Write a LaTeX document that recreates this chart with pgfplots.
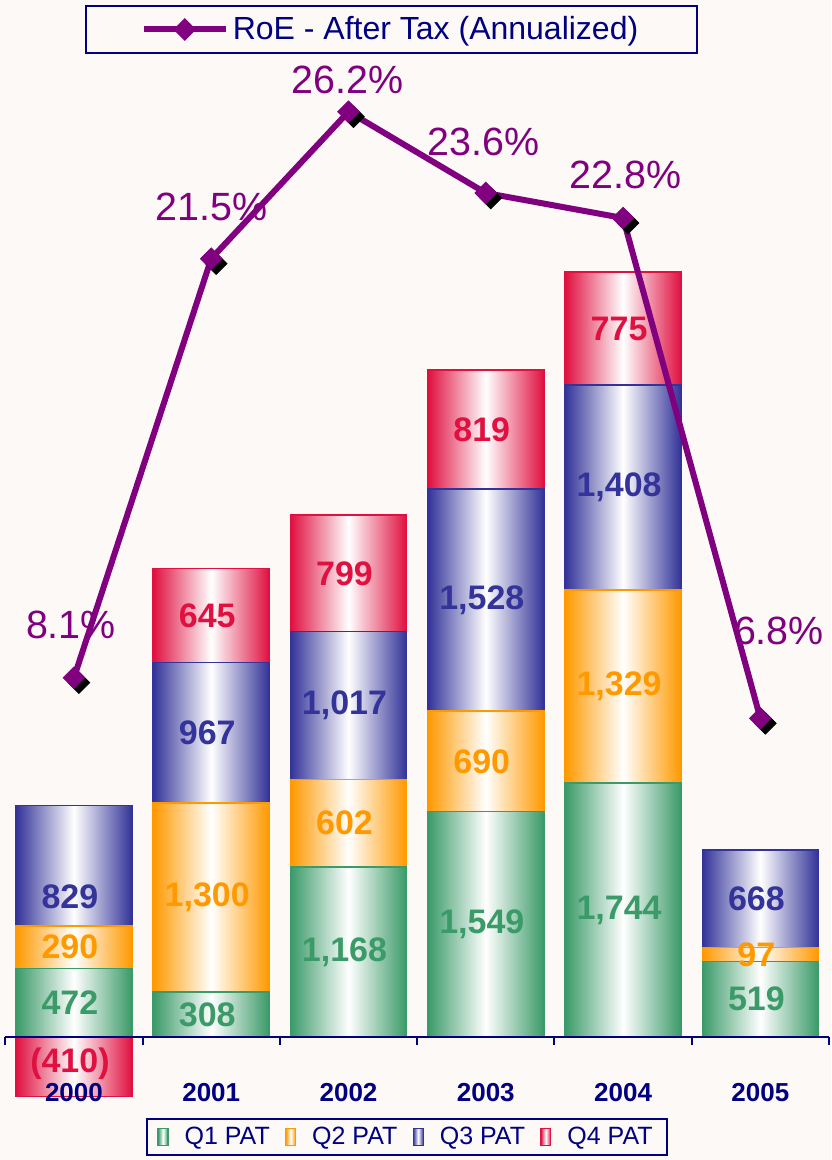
\documentclass[border=0pt]{standalone}
\usepackage{pgfplots}
\pgfplotsset{compat=1.18}
\usepackage{pgfplotstable}
\usepackage{fontspec}
\setmainfont{Liberation Sans}
\definecolor{bg}{RGB}{252,249,246}
\definecolor{qone}{RGB}{58,154,104}
\definecolor{qtwo}{RGB}{255,153,0}
\definecolor{qthree}{RGB}{51,51,153}
\definecolor{qfour}{RGB}{224,16,64}
\definecolor{roe}{RGB}{128,0,128}
\definecolor{navytext}{RGB}{0,0,128}
\pgfdeclarelayer{lab}
\pgfsetlayers{main,lab}

% PAT by quarter (0 = no bar in the stack)
\pgfplotstableread{
x Q1 Q2 Q3 Q4
0 472 290 829 0
1 308 1300 967 645
2 1168 602 1017 799
3 1549 690 1528 819
4 1744 1329 1408 775
5 519 97 668 0
}\pat
\pgfplotstableread{
x Q4
0 -410
}\negq
\pgfplotstableread{
x roe dx dy
0 8.1 -1.5 26.3
1 21.5 0 25.9
2 26.2 -0.5 15.9
3 23.6 -1 25.5
4 22.8 1.2 21.5
5 6.8 9.3 43.7
}\roedata

\def\yu{0.07275}
\newcommand\patbarcode[1]{%
  \pgfmathsetmacro\h{\val*\yu}%
  \ifdim\h pt>0.01pt
    \path[draw=#1, line width=0.8pt, left color=#1, right color=#1, middle color=white]
      (-29pt,-\h pt) rectangle (29pt,0pt);
    \begin{pgfonlayer}{lab}
    \node[text=#1, font=\fontsize{17}{19}\selectfont\bfseries, inner sep=0pt] at (-2pt,{-\fr*\h pt})
      {\pgfmathprintnumber[fixed, precision=0, 1000 sep={,}, assume math mode=true]{\val}};
    \end{pgfonlayer}
  \fi}
\pgfplotsset{
  frame/.style={at={(0pt,0pt)}, anchor=south west, scale only axis,
    width=411.85pt, height=510pt, xmin=-0.5, xmax=5.5, clip=false,
    axis line style={draw=none}, ytick=\empty, xtick=\empty, major tick length=0pt},
  primary/.style={frame, ymin=-295.5, ymax=6714.8},
  baricon/.style={legend image code/.code={\draw[draw=#1, left color=#1, right color=#1, middle color=white, line width=0.6pt] (0pt,-4.2pt) rectangle (5pt,4.2pt);}},
  patbar/.style 2 args={only marks, scatter, mark=*, mark size=0pt, mark options={draw=none, fill=none},
    visualization depends on={#2 \as \fr},
    scatter/@pre marker code/.code={\patbarcode{#1}},
    scatter/@post marker code/.code={},
    baricon=#1},
}

\begin{document}
\begin{tikzpicture}
\useasboundingbox (-2.65pt,-40pt) rectangle (412.85pt,540pt);
\fill[bg] (-2.65pt,-40pt) rectangle (412.85pt,540pt);

% stacked bars (each bar drawn from the stacked top down by its own value)
\begin{axis}[primary, stack plots=y, point meta=explicit,
  visualization depends on={rawy \as \val},
  legend columns=-1,
  legend style={at={(0.4877,0)}, anchor=north, yshift=-19pt, draw=navytext, line width=1pt,
    fill=bg, font=\fontsize{12.5}{14}\selectfont, text=navytext, inner xsep=5.25pt,
    /tikz/every odd column/.append style={column sep=6pt},
    /tikz/every even column/.append style={column sep=5.6pt}}]
\addplot[patbar={qone}{0.5}] table[x=x, y=Q1, meta=Q1] {\pat};
\addlegendentry{Q1 PAT}
\addplot[patbar={qtwo}{0.5}] table[x=x, y=Q2, meta=Q2] {\pat};
\addlegendentry{Q2 PAT}
\addplot[patbar={qthree}{(rawx<0.5 ? 0.754 : 0.5)}] table[x=x, y=Q3, meta=Q3] {\pat};
\addlegendentry{Q3 PAT}
\addplot[patbar={qfour}{0.5}] table[x=x, y=Q4, meta=Q4] {\pat};
\addlegendentry{Q4 PAT}
\end{axis}

% negative Q4 bar, zero line and category axis
\begin{axis}[primary, axis on top, ybar, bar width=58pt, bar shift=0pt,
  xtick={0,1,2,3,4,5}, xticklabels={2000,2001,2002,2003,2004,2005},
  xticklabel style={font=\fontsize{13}{15}\selectfont\bfseries, text=navytext, inner sep=0pt, anchor=north, yshift=-1.5pt}]
\addplot[draw=qfour, line width=0.8pt, left color=qfour, right color=qfour, middle color=white,
  nodes near coords={(\pgfmathprintnumber[assume math mode=true]{\pgfplotspointmeta})},
  point meta={-rawy},
  every node near coord/.append style={anchor=center, xshift=-2pt, yshift=16.5pt, text=qfour, font=\fontsize{17}{19}\selectfont\bfseries}]
  table[x=x, y=Q4] {\negq};
\draw[navytext, line width=1pt] (axis cs:-0.5,0) -- (axis cs:5.5,0);
\pgfplotsinvokeforeach{-0.5,0.5,1.5,2.5,3.5,4.5,5.5}{\draw[navytext, line width=1pt] (axis cs:#1,0) -- ++(0pt,-4pt);}
\end{axis}

% RoE line
\begin{axis}[frame, ymin=-4.765, ymax=27.854,
  legend style={at={(0.4689,1)}, anchor=center, yshift=15.25pt, draw=navytext, line width=1pt,
    fill=bg, font=\fontsize{16}{19}\selectfont, text=navytext, inner xsep=27.25pt, inner ysep=3.25pt},
  legend image code/.code={\draw[#1, mark repeat=2, mark phase=2] plot coordinates {(0pt,0pt) (20.5pt,0pt) (41pt,0pt)};}]
\addplot[forget plot, only marks, mark=square*, mark size=3.8pt,
  mark options={xshift=2.5pt, yshift=-2.5pt, rotate=45, fill=black, draw=black, line width=0.4pt}]
  table[x=x, y=roe] {\roedata};
\addplot[roe, line width=3pt, mark=square*, mark size=3.8pt,
  mark options={solid, rotate=45, fill=roe, draw=roe, line width=0.4pt},
  nodes near coords={\pgfmathprintnumber[fixed, fixed zerofill, precision=1, assume math mode=true]{\pgfplotspointmeta}\%},
  visualization depends on={\thisrow{dx} \as \dx},
  visualization depends on={\thisrow{dy} \as \dy},
  every node near coord/.append style={anchor=center, xshift={\dx*1pt}, yshift={\dy*1pt}, text=roe, font=\fontsize{19.7}{23}\selectfont}]
  table[x=x, y=roe] {\roedata};
\addlegendentry{RoE - After Tax (Annualized)}
\end{axis}
\end{tikzpicture}
\end{document}
